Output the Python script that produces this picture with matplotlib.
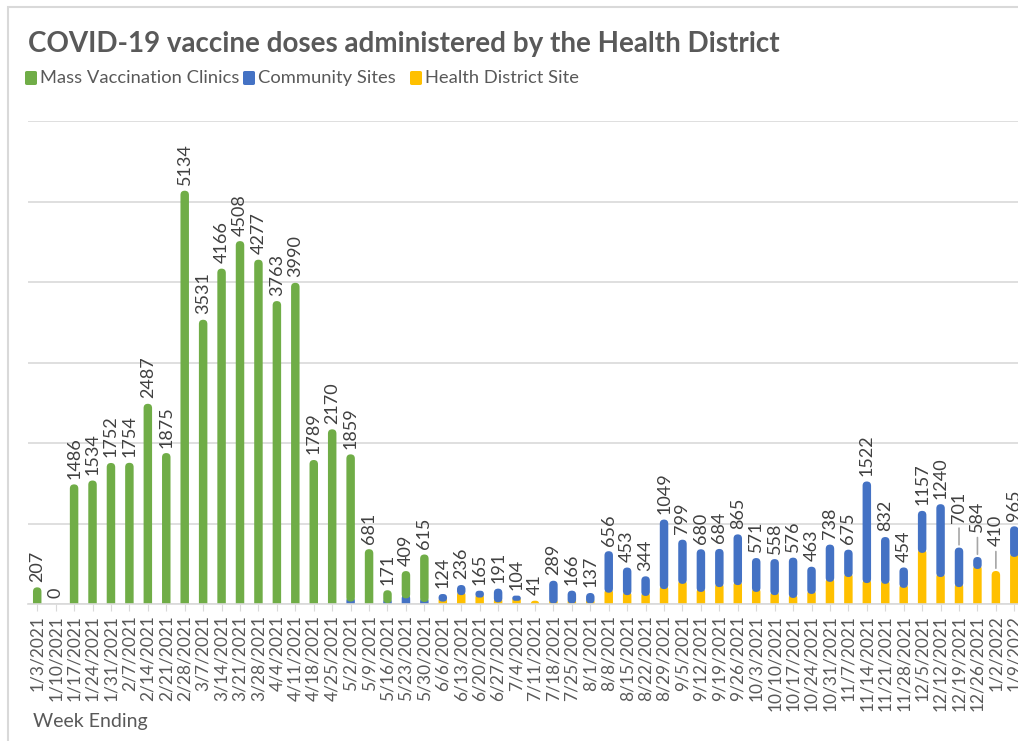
import numpy as np
import matplotlib
matplotlib.use("Agg")
from matplotlib import pyplot as plt
from matplotlib.patches import Rectangle, FancyBboxPatch, BoxStyle

plt.rcParams['font.family'] = ['Lato', 'DejaVu Sans']

weeks = ["1/3/2021", "1/10/2021", "1/17/2021", "1/24/2021", "1/31/2021", "2/7/2021",
         "2/14/2021", "2/21/2021", "2/28/2021", "3/7/2021", "3/14/2021", "3/21/2021",
         "3/28/2021", "4/4/2021", "4/11/2021", "4/18/2021", "4/25/2021", "5/2/2021",
         "5/9/2021", "5/16/2021", "5/23/2021", "5/30/2021", "6/6/2021", "6/13/2021",
         "6/20/2021", "6/27/2021", "7/4/2021", "7/11/2021", "7/18/2021", "7/25/2021",
         "8/1/2021", "8/8/2021", "8/15/2021", "8/22/2021", "8/29/2021", "9/5/2021",
         "9/12/2021", "9/19/2021", "9/26/2021", "10/3/2021", "10/10/2021", "10/17/2021",
         "10/24/2021", "10/31/2021", "11/7/2021", "11/14/2021", "11/21/2021", "11/28/2021",
         "12/5/2021", "12/12/2021", "12/19/2021", "12/26/2021", "1/2/2022", "1/9/2022"]

totals = [207, 0, 1486, 1534, 1752, 1754, 2487, 1875, 5134, 3531, 4166, 4508,
          4277, 3763, 3990, 1789, 2170, 1859, 681, 171, 409, 615, 124, 236,
          165, 191, 104, 41, 289, 166, 137, 656, 453, 344, 1049, 799,
          680, 684, 865, 571, 558, 576, 463, 738, 675, 1522, 832, 454,
          1157, 1240, 701, 584, 410, 965]

# health district site (bottom)
health = [0, 0, 0, 0, 0, 0, 0, 0, 0, 0, 0, 0,
          0, 0, 0, 0, 0, 0, 0, 0, 0, 0, 30, 110,
          80, 20, 40, 41, 5, 5, 5, 140, 110, 100, 185, 250,
          150, 210, 235, 150, 110, 75, 125, 275, 335, 260, 250, 200,
          635, 335, 210, 435, 410, 585]

# community sites, estimated
community = [0, 0, 0, 0, 0, 0, 0, 0, 0, 0, 0, 0,
             0, 0, 0, 0, 0, 30, 0, 10, 70, 25, 94, 126,
             85, 171, 64, 0, 284, 161, 132, 516, 343, 244, 864, 549,
             530, 474, 630, 421, 448, 501, 338, 463, 340, 1262, 582, 254,
             522, 905, 491, 149, 0, 380]

mass = [t - h - c for t, h, c in zip(totals, health, community)]

# labels that Excel pushed up with a leader line
leader = {50: 14, 51: 14, 52: 14}

GREEN = "#70AD47"
BLUE = "#4472C4"
YELLOW = "#FFC000"
GREY_TXT = "#595959"
GRID = "#D9D9D9"

W_PX, H_PX = 1018, 741
AX_L, AX_B, AX_W, AX_H = 28, 137, 990, 483
XMIN, XMAX, YMAX = -0.5, 53.2, 6000


def round_bars(ax, bars, r_px=4.0):
    # swap the square bar patches for rounded ones of the same size;
    # a segment with another one stacked on it runs on under it
    asp = (YMAX / AX_H) / ((XMAX - XMIN) / AX_W)
    ry = r_px * YMAX / AX_H
    for i, rect in enumerate(bars):
        x0, y0 = rect.get_xy()
        w, h = rect.get_width(), rect.get_height()
        col = rect.get_facecolor()
        z = rect.get_zorder()
        rect.remove()
        if h <= 0:
            continue
        up = ry if y0 + h < totals[i] - 0.5 else 0
        down = ry if y0 <= 0 else 0
        hh = h + up + down
        rs = min(w / 2, (h + down) / asp / 2)
        p = FancyBboxPatch((x0, y0 - down), w, hh,
                           boxstyle=BoxStyle("Round", pad=0, rounding_size=rs),
                           mutation_aspect=asp, fc=col, ec="none", zorder=z)
        ax.add_patch(p)


fig = plt.figure(figsize=(W_PX / 100, H_PX / 100), dpi=100)
ax = fig.add_axes([AX_L / W_PX, AX_B / H_PX, AX_W / W_PX, AX_H / H_PX])

x = np.arange(len(weeks))
w = 0.46
bot2 = np.array(health) + np.array(community)
b1 = ax.bar(x, health, w, color=YELLOW, zorder=2)
b2 = ax.bar(x, community, w, bottom=health, color=BLUE, zorder=2.1)
b3 = ax.bar(x, mass, w, bottom=bot2, color=GREEN, zorder=2.2)
ax.set_xlim(XMIN, XMAX)
ax.set_ylim(0, YMAX)
for b in (b1, b2, b3):
    round_bars(ax, b)

for i, t in enumerate(totals):
    off = 4
    if i in leader:
        off = 4 + leader[i]
        ax.annotate("", xy=(i, t), xytext=(0, leader[i] + 2), textcoords="offset points",
                    arrowprops=dict(arrowstyle="-", color="#A6A6A6", lw=1.2))
    ax.annotate(str(t), (i, t), xytext=(0, off), textcoords="offset points",
                rotation=90, ha="center", va="bottom", fontsize=13, color="#404040")

ax.set_yticks(np.arange(0, YMAX + 1, 1000))
ax.yaxis.grid(True, color=GRID, lw=1.2, zorder=0)
ax.tick_params(axis="y", length=0, labelleft=False)
ax.set_xticks(x)
ax.set_xticklabels(weeks, rotation=90, fontsize=12.5, color=GREY_TXT, va="top")
ax.tick_params(axis="x", length=5, color=GRID, pad=3)
for s in ["top", "right", "left"]:
    ax.spines[s].set_visible(False)
ax.spines["bottom"].set_color(GRID)
ax.spines["bottom"].set_linewidth(1.2)
ax.spines["bottom"].set_zorder(3)

fig.text(33 / W_PX, 1 - 722 / H_PX, "Week Ending", fontsize=14, color=GREY_TXT, va="center")
fig.text(28 / W_PX, 1 - 44 / H_PX, "COVID-19 vaccine doses administered by the Health District",
         fontsize=20, fontweight="bold", color=GREY_TXT, va="center")

# legend
items = [("Mass Vaccination Clinics", GREEN, 25), ("Community Sites", BLUE, 243),
         ("Health District Site", YELLOW, 410)]
for name, col, px in items:
    fig.patches.append(FancyBboxPatch((px / W_PX, 1 - 85 / H_PX), 12 / W_PX, 14 / H_PX,
                                      boxstyle="round,pad=0,rounding_size=0.002",
                                      transform=fig.transFigure, fc=col, ec="none"))
    fig.text((px + 15) / W_PX, 1 - 78 / H_PX, name, fontsize=13.2, color=GREY_TXT, va="center")

# chart frame
fig.patches.append(Rectangle((8 / W_PX, -0.1), 1.2, 1 - 7 / H_PX + 0.1, transform=fig.transFigure,
                             fill=False, edgecolor=GRID, lw=1.5))

fig.savefig("out.png", dpi=100)
